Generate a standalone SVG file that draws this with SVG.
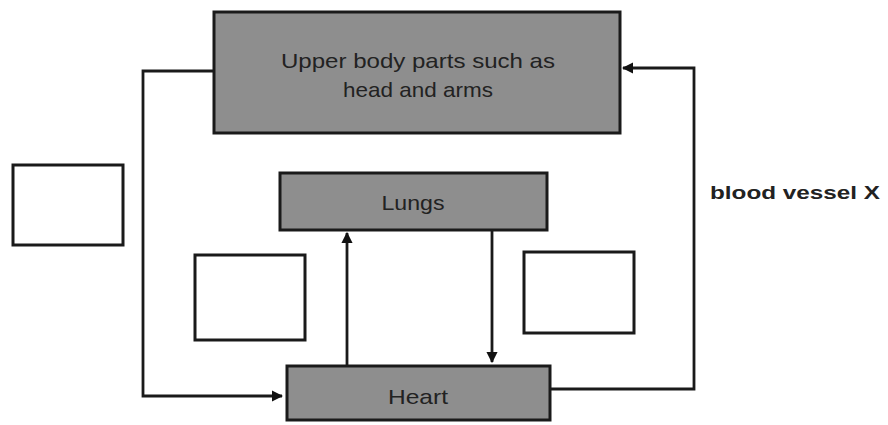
<svg xmlns="http://www.w3.org/2000/svg" width="888" height="425" viewBox="0 0 888 425">
<defs>
<marker id="ah" viewBox="0 0 10 10" refX="9" refY="5" markerWidth="4" markerHeight="4" orient="auto" markerUnits="strokeWidth">
<path d="M0,0 L10,5 L0,10 z" fill="#111"/>
</marker>
<style>
.g{fill:#8e8e8e;stroke:#1a1a1a;stroke-width:3}
.e{fill:#fff;stroke:#1a1a1a;stroke-width:3}
.t{font-family:"Liberation Sans",Arial,sans-serif;font-size:21px;fill:#222;text-anchor:middle}
.c{fill:none;stroke:#1a1a1a;stroke-width:2.8}
</style>
</defs>
<rect width="888" height="425" fill="#fff"/>
<g id="connectors">
<path class="c" d="M213,71 H143 V396 H282" marker-end="url(#ah)"/>
<path class="c" d="M550,389 H694 V68 H623" marker-end="url(#ah)"/>
<path class="c" d="M347,367 V233" marker-end="url(#ah)"/>
<path class="c" d="M492,228 V362" marker-end="url(#ah)"/>
</g>
<g id="upper">
<rect class="g" x="214" y="12" width="406" height="121"/>
<text class="t" x="418" y="68" textLength="274" lengthAdjust="spacingAndGlyphs">Upper body parts such as</text>
<text class="t" x="418" y="97" textLength="150" lengthAdjust="spacingAndGlyphs">head and arms</text>
</g>
<g id="lungs">
<rect class="g" x="280" y="173" width="267" height="57" fill="#9a9a9a"/>
<text class="t" x="413" y="210" textLength="63" lengthAdjust="spacingAndGlyphs">Lungs</text>
</g>
<g id="heart">
<rect class="g" x="287" y="366" width="263" height="54" fill="#969696"/>
<text class="t" x="418" y="404" textLength="60" lengthAdjust="spacingAndGlyphs">Heart</text>
</g>
<g id="box-left">
<rect class="e" x="13" y="165" width="110" height="80"/>
</g>
<g id="box-mid">
<rect class="e" x="195" y="255" width="110" height="85"/>
</g>
<g id="box-right">
<rect class="e" x="524" y="252" width="110" height="81"/>
</g>
<g id="label-x">
<text x="710" y="199" font-family="Liberation Sans,Arial,sans-serif" font-size="18" font-weight="bold" fill="#222" textLength="170" lengthAdjust="spacingAndGlyphs">blood vessel X</text>
</g>
</svg>
